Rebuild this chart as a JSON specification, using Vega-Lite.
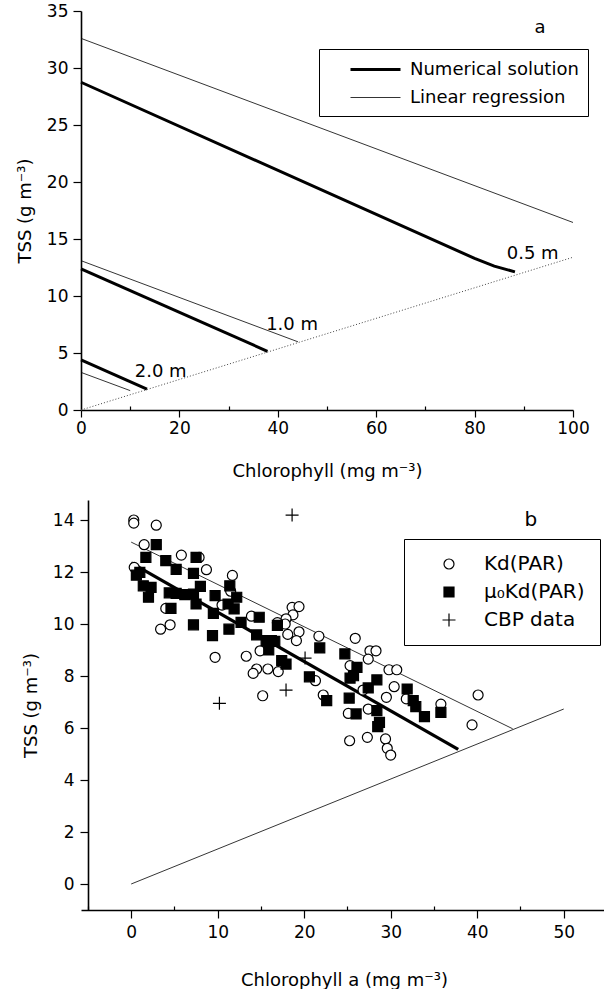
{
  "$schema": "https://vega.github.io/schema/vega-lite/v6.json",
  "background": "white",
  "padding": {"left": 16, "top": 2, "right": 0, "bottom": 0},
  "spacing": 20,
  "config": {
    "view": {"stroke": null},
    "font": "DejaVu Sans",
    "axis": {
      "grid": false,
      "domainColor": "black",
      "domainWidth": 1.6,
      "tickColor": "black",
      "tickWidth": 1.2,
      "labelColor": "black",
      "titleColor": "black",
      "labelFont": "DejaVu Sans",
      "titleFont": "DejaVu Sans",
      "labelFontSize": 17,
      "titleFontSize": 18,
      "titleFontWeight": "normal",
      "labelFlush": false,
      "labelOverlap": false
    },
    "legend": {
      "labelFont": "DejaVu Sans",
      "labelColor": "black",
      "strokeColor": "black",
      "fillColor": "white",
      "labelLimit": 400
    }
  },
  "resolve": {
    "scale": {"x": "independent", "y": "independent", "strokeWidth": "independent", "shape": "independent", "fill": "independent", "stroke": "independent"},
    "legend": {"strokeWidth": "independent", "shape": "independent", "fill": "independent", "stroke": "independent"}
  },
  "vconcat": [
    {
      "width": 492,
      "height": 399,
      "layer": [
        {
          "data": {"values": [
            {"curve": "N05", "kind": "Numerical solution", "chl": 0, "tss": 28.75},
            {"curve": "N05", "kind": "Numerical solution", "chl": 80, "tss": 13.3},
            {"curve": "N05", "kind": "Numerical solution", "chl": 84, "tss": 12.62},
            {"curve": "N05", "kind": "Numerical solution", "chl": 88.2, "tss": 12.12},
            {"curve": "R05", "kind": "Linear regression", "chl": 0, "tss": 32.6},
            {"curve": "R05", "kind": "Linear regression", "chl": 100, "tss": 16.45},
            {"curve": "N10", "kind": "Numerical solution", "chl": 0, "tss": 12.37},
            {"curve": "N10", "kind": "Numerical solution", "chl": 37.9, "tss": 5.15},
            {"curve": "R10", "kind": "Linear regression", "chl": 0, "tss": 13.1},
            {"curve": "R10", "kind": "Linear regression", "chl": 44.1, "tss": 5.98},
            {"curve": "N20", "kind": "Numerical solution", "chl": 0, "tss": 4.4},
            {"curve": "N20", "kind": "Numerical solution", "chl": 13.4, "tss": 1.83},
            {"curve": "R20", "kind": "Linear regression", "chl": 0, "tss": 3.3},
            {"curve": "R20", "kind": "Linear regression", "chl": 10, "tss": 1.7}
          ]},
          "mark": {"type": "line", "color": "black", "strokeCap": "butt"},
          "encoding": {
            "x": {
              "field": "chl", "type": "quantitative",
              "scale": {"domain": [0, 100], "nice": false, "zero": false},
              "axis": {
                "title": "Chlorophyll (mg m⁻³)",
                "values": [0, 10, 20, 30, 40, 50, 60, 70, 80, 90, 100],
                "labelExpr": "datum.value % 20 == 0 ? datum.label : ''",
                "tickSize": {"condition": {"test": "datum.value % 20 != 0", "value": -4}, "value": 7},
                "labelPadding": 3,
                "titlePadding": 26
              }
            },
            "y": {
              "field": "tss", "type": "quantitative",
              "scale": {"domain": [0, 35], "nice": false},
              "axis": {
                "title": "TSS (g m⁻³)",
                "values": [0, 2.5, 5, 7.5, 10, 12.5, 15, 17.5, 20, 22.5, 25, 27.5, 30, 32.5, 35],
                "labelExpr": "datum.value % 5 == 0 ? datum.label : ''",
                "tickSize": {"condition": {"test": "datum.value % 5 != 0", "value": 4}, "value": 8},
                "labelPadding": 5,
                "titlePadding": 12
              }
            },
            "detail": {"field": "curve"},
            "strokeWidth": {
              "field": "kind", "type": "nominal",
              "scale": {"domain": ["Numerical solution", "Linear regression"], "range": [3, 0.8]},
              "legend": {
                "title": null,
                "orient": "none",
                "legendX": 238,
                "legendY": 38,
                "padding": 9,
                "symbolType": "M-2.5,0H2.5",
                "symbolSize": 400,
                "symbolStrokeColor": "black",
                "symbolOffset": 36,
                "labelOffset": 23,
                "labelFontSize": 18,
                "rowPadding": 8,
                "labelExpr": "datum.label + '        '"
              }
            }
          }
        },
        {
          "data": {"values": [{"chl": 0, "tss": 0}, {"chl": 100, "tss": 13.4}]},
          "mark": {"type": "line", "color": "#444", "strokeWidth": 1, "strokeDash": [1, 2]},
          "encoding": {
            "x": {"field": "chl", "type": "quantitative"},
            "y": {"field": "tss", "type": "quantitative"}
          }
        },
        {
          "data": {"values": [
            {"chl": 91.8, "tss": 13.7, "label": "0.5 m"},
            {"chl": 42.9, "tss": 7.5, "label": "1.0 m"},
            {"chl": 16.2, "tss": 3.3, "label": "2.0 m"},
            {"chl": 93.3, "tss": 33.5, "label": "a"}
          ]},
          "mark": {"type": "text", "font": "DejaVu Sans", "fontSize": 18, "align": "center", "baseline": "middle", "color": "black"},
          "encoding": {
            "x": {"field": "chl", "type": "quantitative"},
            "y": {"field": "tss", "type": "quantitative"},
            "text": {"field": "label"}
          }
        }
      ]
    },
    {
      "width": 526,
      "height": 410,
      "layer": [
        {
          "data": {"values": [
            {"curve": "num", "w": "thick", "chl": 0, "tss": 12.35},
            {"curve": "num", "w": "thick", "chl": 37.8, "tss": 5.18},
            {"curve": "reg", "w": "thin", "chl": 0, "tss": 13.15},
            {"curve": "reg", "w": "thin", "chl": 44.1, "tss": 5.97},
            {"curve": "lim", "w": "thin", "chl": 0, "tss": 0},
            {"curve": "lim", "w": "thin", "chl": 50, "tss": 6.73}
          ]},
          "mark": {"type": "line", "color": "black", "strokeCap": "butt"},
          "encoding": {
            "x": {
              "field": "chl", "type": "quantitative",
              "scale": {"domain": [-5.8, 55], "nice": false, "zero": false},
              "axis": {
                "title": "Chlorophyll a (mg m⁻³)",
                "values": [-5, 0, 5, 10, 15, 20, 25, 30, 35, 40, 45, 50, 55],
                "labelExpr": "datum.value % 10 == 0 ? datum.label : ''",
                "tickSize": {"condition": {"test": "datum.value % 10 != 0", "value": -4}, "value": 8},
                "labelPadding": 6,
                "titlePadding": 31
              }
            },
            "y": {
              "field": "tss", "type": "quantitative",
              "scale": {"domain": [-1, 14.77], "nice": false, "zero": false},
              "axis": {
                "title": "TSS (g m⁻³)",
                "offset": -7,
                "values": [0, 1, 2, 3, 4, 5, 6, 7, 8, 9, 10, 11, 12, 13, 14],
                "labelExpr": "datum.value % 2 == 0 ? datum.label : ''",
                "tickSize": {"condition": {"test": "datum.value % 2 != 0", "value": 4}, "value": 8},
                "labelPadding": 6,
                "titlePadding": 12
              }
            },
            "detail": {"field": "curve"},
            "strokeWidth": {
              "field": "w", "type": "nominal",
              "scale": {"domain": ["thick", "thin"], "range": [3.2, 0.8]},
              "legend": null
            }
          }
        },
        {
          "data": {"values": [
            {"s": "Kd(PAR)", "chl": 0.3, "tss": 14.0},
            {"s": "Kd(PAR)", "chl": 0.3, "tss": 13.88},
            {"s": "Kd(PAR)", "chl": 2.9, "tss": 13.8},
            {"s": "Kd(PAR)", "chl": 1.5, "tss": 13.05},
            {"s": "Kd(PAR)", "chl": 5.8, "tss": 12.65},
            {"s": "Kd(PAR)", "chl": 7.85, "tss": 12.56},
            {"s": "Kd(PAR)", "chl": 8.7, "tss": 12.09},
            {"s": "Kd(PAR)", "chl": 0.35, "tss": 12.18},
            {"s": "Kd(PAR)", "chl": 11.7, "tss": 11.87},
            {"s": "Kd(PAR)", "chl": 11.5, "tss": 11.26},
            {"s": "Kd(PAR)", "chl": 4.0, "tss": 10.6},
            {"s": "Kd(PAR)", "chl": 4.5, "tss": 9.97},
            {"s": "Kd(PAR)", "chl": 3.4, "tss": 9.8},
            {"s": "Kd(PAR)", "chl": 10.5, "tss": 10.73},
            {"s": "Kd(PAR)", "chl": 13.9, "tss": 10.3},
            {"s": "Kd(PAR)", "chl": 18.6, "tss": 10.64},
            {"s": "Kd(PAR)", "chl": 19.4, "tss": 10.67},
            {"s": "Kd(PAR)", "chl": 18.7, "tss": 10.35},
            {"s": "Kd(PAR)", "chl": 17.9, "tss": 10.2},
            {"s": "Kd(PAR)", "chl": 17.8, "tss": 10.0},
            {"s": "Kd(PAR)", "chl": 19.4, "tss": 9.7},
            {"s": "Kd(PAR)", "chl": 18.1, "tss": 9.6},
            {"s": "Kd(PAR)", "chl": 19.1, "tss": 9.36},
            {"s": "Kd(PAR)", "chl": 21.7, "tss": 9.53},
            {"s": "Kd(PAR)", "chl": 25.9, "tss": 9.45},
            {"s": "Kd(PAR)", "chl": 27.6, "tss": 8.97},
            {"s": "Kd(PAR)", "chl": 28.3, "tss": 8.97},
            {"s": "Kd(PAR)", "chl": 27.4, "tss": 8.65},
            {"s": "Kd(PAR)", "chl": 25.3, "tss": 8.4},
            {"s": "Kd(PAR)", "chl": 29.8, "tss": 8.24},
            {"s": "Kd(PAR)", "chl": 30.7, "tss": 8.24},
            {"s": "Kd(PAR)", "chl": 30.4, "tss": 7.59},
            {"s": "Kd(PAR)", "chl": 29.5, "tss": 7.18},
            {"s": "Kd(PAR)", "chl": 26.8, "tss": 7.46},
            {"s": "Kd(PAR)", "chl": 31.8, "tss": 7.12},
            {"s": "Kd(PAR)", "chl": 35.8, "tss": 6.92},
            {"s": "Kd(PAR)", "chl": 40.1, "tss": 7.27},
            {"s": "Kd(PAR)", "chl": 39.4, "tss": 6.12},
            {"s": "Kd(PAR)", "chl": 27.4, "tss": 6.73},
            {"s": "Kd(PAR)", "chl": 25.1, "tss": 6.56},
            {"s": "Kd(PAR)", "chl": 25.25, "tss": 5.51},
            {"s": "Kd(PAR)", "chl": 27.3, "tss": 5.64},
            {"s": "Kd(PAR)", "chl": 29.4, "tss": 5.58},
            {"s": "Kd(PAR)", "chl": 29.6, "tss": 5.22},
            {"s": "Kd(PAR)", "chl": 30.0, "tss": 4.96},
            {"s": "Kd(PAR)", "chl": 22.2, "tss": 7.27},
            {"s": "Kd(PAR)", "chl": 21.3, "tss": 7.82},
            {"s": "Kd(PAR)", "chl": 15.8, "tss": 8.27},
            {"s": "Kd(PAR)", "chl": 14.5, "tss": 8.27},
            {"s": "Kd(PAR)", "chl": 14.1, "tss": 8.1},
            {"s": "Kd(PAR)", "chl": 17.0, "tss": 8.17},
            {"s": "Kd(PAR)", "chl": 15.2, "tss": 7.24},
            {"s": "Kd(PAR)", "chl": 13.3, "tss": 8.76},
            {"s": "Kd(PAR)", "chl": 9.7, "tss": 8.72},
            {"s": "Kd(PAR)", "chl": 14.9, "tss": 8.97},
            {"s": "Kd(PAR)", "chl": 16.9, "tss": 10.05},
            {"s": "μ₀Kd(PAR)", "chl": 2.9, "tss": 13.05},
            {"s": "μ₀Kd(PAR)", "chl": 1.7, "tss": 12.56},
            {"s": "μ₀Kd(PAR)", "chl": 4.0, "tss": 12.44},
            {"s": "μ₀Kd(PAR)", "chl": 5.2, "tss": 12.1},
            {"s": "μ₀Kd(PAR)", "chl": 7.5, "tss": 12.56},
            {"s": "μ₀Kd(PAR)", "chl": 7.2, "tss": 11.95},
            {"s": "μ₀Kd(PAR)", "chl": 0.6, "tss": 11.88},
            {"s": "μ₀Kd(PAR)", "chl": 1.0, "tss": 11.99},
            {"s": "μ₀Kd(PAR)", "chl": 1.4, "tss": 11.47},
            {"s": "μ₀Kd(PAR)", "chl": 2.3, "tss": 11.41},
            {"s": "μ₀Kd(PAR)", "chl": 2.0, "tss": 11.03},
            {"s": "μ₀Kd(PAR)", "chl": 4.4, "tss": 11.2},
            {"s": "μ₀Kd(PAR)", "chl": 5.2, "tss": 11.18},
            {"s": "μ₀Kd(PAR)", "chl": 6.2, "tss": 11.13},
            {"s": "μ₀Kd(PAR)", "chl": 7.2, "tss": 11.15},
            {"s": "μ₀Kd(PAR)", "chl": 8.0, "tss": 11.45},
            {"s": "μ₀Kd(PAR)", "chl": 7.5, "tss": 10.77},
            {"s": "μ₀Kd(PAR)", "chl": 4.6, "tss": 10.6},
            {"s": "μ₀Kd(PAR)", "chl": 9.7, "tss": 11.09},
            {"s": "μ₀Kd(PAR)", "chl": 9.5, "tss": 10.41},
            {"s": "μ₀Kd(PAR)", "chl": 7.2, "tss": 9.97},
            {"s": "μ₀Kd(PAR)", "chl": 9.4, "tss": 9.55},
            {"s": "μ₀Kd(PAR)", "chl": 11.4, "tss": 11.47},
            {"s": "μ₀Kd(PAR)", "chl": 12.2, "tss": 11.03},
            {"s": "μ₀Kd(PAR)", "chl": 11.2, "tss": 10.77},
            {"s": "μ₀Kd(PAR)", "chl": 11.9, "tss": 10.58},
            {"s": "μ₀Kd(PAR)", "chl": 11.3, "tss": 9.8},
            {"s": "μ₀Kd(PAR)", "chl": 12.7, "tss": 10.06},
            {"s": "μ₀Kd(PAR)", "chl": 14.8, "tss": 10.26},
            {"s": "μ₀Kd(PAR)", "chl": 14.5, "tss": 9.58},
            {"s": "μ₀Kd(PAR)", "chl": 15.6, "tss": 9.36},
            {"s": "μ₀Kd(PAR)", "chl": 16.2, "tss": 9.36},
            {"s": "μ₀Kd(PAR)", "chl": 16.6, "tss": 9.33},
            {"s": "μ₀Kd(PAR)", "chl": 15.9, "tss": 9.0},
            {"s": "μ₀Kd(PAR)", "chl": 16.9, "tss": 9.95},
            {"s": "μ₀Kd(PAR)", "chl": 17.4, "tss": 8.59},
            {"s": "μ₀Kd(PAR)", "chl": 17.9, "tss": 8.46},
            {"s": "μ₀Kd(PAR)", "chl": 21.8, "tss": 9.08},
            {"s": "μ₀Kd(PAR)", "chl": 24.7, "tss": 8.85},
            {"s": "μ₀Kd(PAR)", "chl": 20.6, "tss": 7.97},
            {"s": "μ₀Kd(PAR)", "chl": 22.6, "tss": 7.05},
            {"s": "μ₀Kd(PAR)", "chl": 26.1, "tss": 8.33},
            {"s": "μ₀Kd(PAR)", "chl": 25.3, "tss": 7.92},
            {"s": "μ₀Kd(PAR)", "chl": 25.7, "tss": 8.01},
            {"s": "μ₀Kd(PAR)", "chl": 28.4, "tss": 7.85},
            {"s": "μ₀Kd(PAR)", "chl": 27.4, "tss": 7.54},
            {"s": "μ₀Kd(PAR)", "chl": 25.2, "tss": 7.15},
            {"s": "μ₀Kd(PAR)", "chl": 26.0, "tss": 6.54},
            {"s": "μ₀Kd(PAR)", "chl": 28.4, "tss": 6.67},
            {"s": "μ₀Kd(PAR)", "chl": 28.7, "tss": 6.22},
            {"s": "μ₀Kd(PAR)", "chl": 28.5, "tss": 6.05},
            {"s": "μ₀Kd(PAR)", "chl": 31.9, "tss": 7.5},
            {"s": "μ₀Kd(PAR)", "chl": 32.6, "tss": 7.05},
            {"s": "μ₀Kd(PAR)", "chl": 32.9, "tss": 6.82},
            {"s": "μ₀Kd(PAR)", "chl": 33.9, "tss": 6.44},
            {"s": "μ₀Kd(PAR)", "chl": 35.8, "tss": 6.6},
            {"s": "CBP data", "chl": 18.6, "tss": 14.19},
            {"s": "CBP data", "chl": 20.1, "tss": 8.69},
            {"s": "CBP data", "chl": 17.9, "tss": 7.46},
            {"s": "CBP data", "chl": 10.2, "tss": 6.95}
          ]},
          "mark": {"type": "point", "filled": false, "strokeWidth": 1.2, "size": 100, "opacity": 1},
          "encoding": {
            "x": {"field": "chl", "type": "quantitative"},
            "y": {"field": "tss", "type": "quantitative"},
            "stroke": {
              "field": "s", "type": "nominal",
              "scale": {"domain": ["Kd(PAR)", "μ₀Kd(PAR)", "CBP data"], "range": ["black", "black", "black"]},
              "legend": {
                "title": null,
                "orient": "none",
                "legendX": 323,
                "legendY": 39,
                "padding": 15,
                "symbolOffset": 20,
                "labelOffset": 25,
                "labelFontSize": 20,
                "rowPadding": 8,
                "symbolSize": 100,
                "symbolStrokeWidth": 1.2,
                "labelExpr": "datum.label + '      '"
              }
            },
            "shape": {
              "field": "s", "type": "nominal",
              "scale": {"domain": ["Kd(PAR)", "μ₀Kd(PAR)", "CBP data"], "range": ["circle", "square", "M-1.3,0H1.3M0,-1.3V1.3"]},
              "legend": {
                "title": null,
                "orient": "none",
                "legendX": 323,
                "legendY": 39,
                "padding": 15,
                "symbolOffset": 20,
                "labelOffset": 25,
                "labelFontSize": 20,
                "rowPadding": 8,
                "symbolSize": 100,
                "symbolStrokeWidth": 1.2,
                "labelExpr": "datum.label + '      '"
              }
            },
            "fill": {
              "field": "s", "type": "nominal",
              "scale": {"domain": ["Kd(PAR)", "μ₀Kd(PAR)", "CBP data"], "range": ["white", "black", "white"]},
              "legend": {
                "title": null,
                "orient": "none",
                "legendX": 323,
                "legendY": 39,
                "padding": 15,
                "symbolOffset": 20,
                "labelOffset": 25,
                "labelFontSize": 20,
                "rowPadding": 8,
                "symbolSize": 100,
                "symbolStrokeWidth": 1.2,
                "labelExpr": "datum.label + '      '"
              }
            }
          }
        },
        {
          "data": {"values": [{"chl": 46.2, "tss": 14.0, "label": "b"}]},
          "mark": {"type": "text", "font": "DejaVu Sans", "fontSize": 20, "align": "center", "baseline": "middle", "color": "black"},
          "encoding": {
            "x": {"field": "chl", "type": "quantitative"},
            "y": {"field": "tss", "type": "quantitative"},
            "text": {"field": "label"}
          }
        }
      ]
    }
  ]
}
